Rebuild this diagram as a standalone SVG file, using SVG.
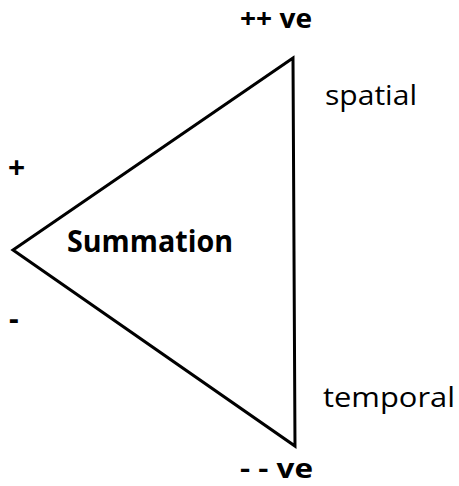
<svg xmlns="http://www.w3.org/2000/svg" width="459" height="486" viewBox="0 0 459 486">
<style>
.t{font-family:"Open Sans","Noto Sans","Liberation Sans",sans-serif;fill:#000}
.b{font-weight:bold}
.edge{fill:none;stroke:#000;stroke-width:3;stroke-linejoin:miter}
</style>
<rect width="459" height="486" fill="#fff"/>
<g id="connectors">
<path class="edge" d="M293 58 L13 250 L295 446 Z"/>
</g>
<g id="top"><text class="t b" x="240" y="28" font-size="27" textLength="72" lengthAdjust="spacingAndGlyphs">++ ve</text></g>
<g id="spatial"><text class="t" x="325" y="105" font-size="28" textLength="92" lengthAdjust="spacingAndGlyphs">spatial</text></g>
<g id="plus"><text class="t b" x="8" y="178" font-size="30">+</text></g>
<g id="summation"><text class="t b" x="67" y="252" font-size="31" textLength="166" lengthAdjust="spacingAndGlyphs">Summation</text></g>
<g id="minus"><text class="t b" x="9" y="329" font-size="30">-</text></g>
<g id="temporal"><text class="t" x="323" y="407" font-size="28" textLength="132" lengthAdjust="spacingAndGlyphs">temporal</text></g>
<g id="bottom"><text class="t b" x="240" y="478" font-size="26" textLength="73" lengthAdjust="spacingAndGlyphs">- - ve</text></g>
</svg>
